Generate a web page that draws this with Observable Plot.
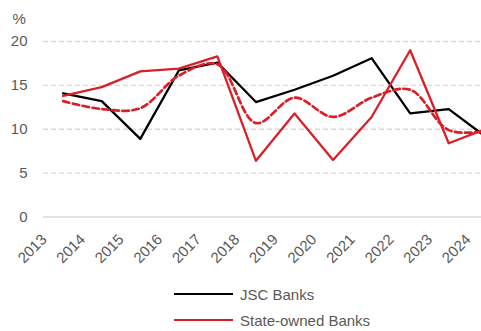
<!DOCTYPE html>
<html>
<head>
<meta charset="utf-8">
<script src="https://cdn.jsdelivr.net/npm/d3@7"></script>
<script src="https://cdn.jsdelivr.net/npm/@observablehq/plot@0.6"></script>
<style>
  html, body { margin: 0; padding: 0; background: #ffffff; overflow: hidden; }
  #chart { width: 481px; }
  .legend { font-family: "Liberation Sans", Arial, sans-serif; font-size: 15px; color: #595959; padding-left: 174px; }
  .legend .item { display: flex; align-items: center; height: 26px; }
  .legend .swatch { width: 59px; height: 2.5px; margin-right: 7px; }
</style>
</head>
<body>
<div id="chart"></div>
<script>
const years = [2013, 2014, 2015, 2016, 2017, 2018, 2019, 2020, 2021, 2022, 2023, 2024];
const jscBanks = [14.1, 13.2, 8.9, 16.7, 17.6, 13.1, 14.5, 16.1, 18.1, 11.8, 12.3, 9.0];
const stateBanks = [13.8, 14.8, 16.6, 16.9, 18.3, 6.4, 11.8, 6.5, 11.4, 19.0, 8.4, 10.1];
const sectorAverage = [13.2, 12.3, 12.4, 16.1, 17.4, 10.7, 13.6, 11.4, 13.6, 14.5, 9.9, 9.8];
const yTicks = [0, 5, 10, 15, 20];
const legendNames = ["JSC Banks", "State-owned Banks"];
const unitLabel = ["%"];

const BLACK = "#000000";
const RED = "#DA1F28";
const GREY_TEXT = "#595959";
const FONT = "'Liberation Sans', Arial, sans-serif";

const toRows = (vals) => years.map((year, i) => ({year, value: vals[i]}));

const chart = Plot.plot({
  width: 481,
  height: 281,
  marginLeft: 43,
  marginRight: 0,
  marginTop: 41,
  marginBottom: 64.5,
  style: {fontFamily: FONT, fontSize: "15px", color: GREY_TEXT, background: "#ffffff"},
  x: {type: "linear", domain: [2012.49, 2023.85]},
  y: {domain: [0, 20]},
  marks: [
    Plot.gridY(yTicks.filter(d => d > 0), {stroke: "#d9d9d9", strokeOpacity: 1, strokeWidth: 1.4, strokeDasharray: "5,3"}),
    Plot.ruleY([0], {stroke: "#d9d9d9", strokeWidth: 1.5}),
    Plot.axisY(yTicks, {tickSize: 0, tickPadding: 16, fill: GREY_TEXT, fontSize: 15, label: null}),
    Plot.axisX(years, {tickSize: 0, tickPadding: 20, tickRotate: -45, dx: -19, tickFormat: d => String(d), fill: GREY_TEXT, fontSize: 15, label: null}),
    Plot.line(toRows(jscBanks), {x: "year", y: "value", stroke: BLACK, strokeWidth: 2.3, clip: true}),
    Plot.line(toRows(sectorAverage), {x: "year", y: "value", stroke: RED, strokeWidth: 2.7, strokeDasharray: "6.5,3.5", curve: "catmull-rom", clip: true}),
    Plot.line(toRows(stateBanks), {x: "year", y: "value", stroke: RED, strokeWidth: 2.3, clip: true}),
    Plot.text(unitLabel, {frameAnchor: "top-left", dx: -31, dy: -28, textAnchor: "start", fill: GREY_TEXT, fontSize: 15})
  ]
});

document.getElementById("chart").appendChild(chart);

const legend = document.createElement("div");
legend.className = "legend";
[BLACK, RED].forEach((c, i) => {
  const item = document.createElement("div");
  item.className = "item";
  const sw = document.createElement("span");
  sw.className = "swatch";
  sw.style.background = c;
  const label = document.createElement("span");
  label.textContent = legendNames[i];
  item.appendChild(sw);
  item.appendChild(label);
  legend.appendChild(item);
});
document.getElementById("chart").appendChild(legend);
</script>
</body>
</html>
